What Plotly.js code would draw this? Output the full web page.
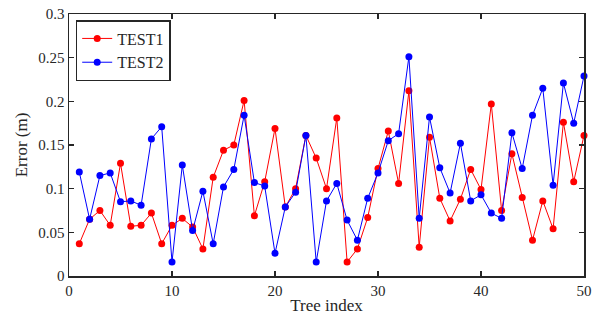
<!DOCTYPE html>
<html><head><meta charset="utf-8">
<script src="https://cdn.plot.ly/plotly-3.0.1.min.js"></script>
<style>body{margin:0;padding:0;background:#fff}#chart{width:595px;height:320px}</style>
</head><body><div id="chart"></div>
<script>
const treeIndex = Array.from({length: 50}, (_, i) => i + 1);
const test1 = [0.037,0.065,0.075,0.058,0.129,0.057,0.058,0.072,0.037,0.058,
               0.066,0.056,0.031,0.113,0.144,0.150,0.201,0.069,0.108,0.169,
               0.079,0.100,0.161,0.135,0.100,0.181,0.016,0.031,0.067,0.123,
               0.166,0.106,0.212,0.033,0.159,0.089,0.063,0.088,0.122,0.099,
               0.197,0.075,0.140,0.090,0.041,0.086,0.054,0.176,0.108,0.161];
const test2 = [0.119,0.065,0.115,0.118,0.085,0.086,0.081,0.157,0.171,0.016,
               0.127,0.052,0.097,0.037,0.102,0.122,0.184,0.107,0.103,0.026,
               0.079,0.096,0.161,0.016,0.086,0.106,0.064,0.041,0.089,0.118,
               0.155,0.163,0.251,0.066,0.182,0.124,0.095,0.152,0.086,0.093,
               0.072,0.066,0.164,0.123,0.184,0.215,0.104,0.221,0.175,0.229];
const font = 'Liberation Serif, Times New Roman, serif';
const traces = [
  {x: treeIndex, y: test1, name: 'TEST1', mode: 'lines+markers', type: 'scatter', cliponaxis: false,
   line: {color: '#ff0000', width: 1}, marker: {color: '#ff0000', size: 7}},
  {x: treeIndex, y: test2, name: 'TEST2', mode: 'lines+markers', type: 'scatter', cliponaxis: false,
   line: {color: '#0000ff', width: 1}, marker: {color: '#0000ff', size: 7}}
];
const axisCommon = {
  showgrid: false, zeroline: false, showline: true, linecolor: '#262626', linewidth: 1.5,
  mirror: 'ticks', ticks: 'inside', ticklen: 5, tickwidth: 1.5, tickcolor: '#262626',
  tickfont: {family: font, size: 15, color: '#262626'}
};
const layout = {
  width: 595, height: 320,
  margin: {l: 69, r: 11, t: 14, b: 44},
  paper_bgcolor: '#fff', plot_bgcolor: '#fff',
  font: {family: font, color: '#262626'},
  showlegend: true,
  xaxis: Object.assign({}, axisCommon, {range: [0, 50], dtick: 10, tick0: 0,
    title: {text: 'Tree index', font: {family: font, size: 17, color: '#262626'}, standoff: 1}}),
  yaxis: Object.assign({}, axisCommon, {range: [0, 0.3], dtick: 0.05, tick0: 0,
    title: {text: 'Error (m)', font: {family: font, size: 17, color: '#262626'}, standoff: 6}}),
  legend: {x: 0.013, y: 0.977, xanchor: 'left', yanchor: 'top',
    bgcolor: '#fff', bordercolor: '#262626', borderwidth: 1.5,
    font: {family: font, size: 16, color: '#262626'}, tracegroupgap: 0}
};
Plotly.newPlot('chart', traces, layout, {displayModeBar: false, staticPlot: true});
</script></body></html>
